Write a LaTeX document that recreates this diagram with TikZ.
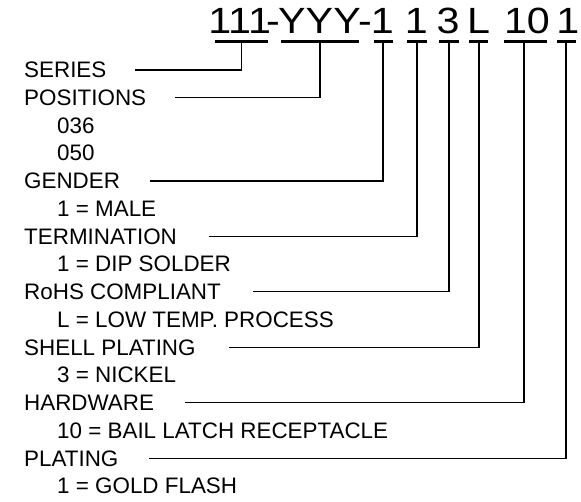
\documentclass[tikz,border=0pt]{standalone}
\usepackage{fontspec}
\setmainfont{Liberation Sans}
\newfontfamily\titlefont[FakeStretch=1.13]{Liberation Sans}
\begin{document}
\begin{tikzpicture}[x=1pt,y=-1pt,
  code/.style={font=\titlefont\fontsize{36.5}{40}\selectfont, inner sep=0pt, anchor=base},
  lab/.style={font=\fontsize{22.4}{26}\selectfont, inner sep=0pt, anchor=base west},
  uline/.style={line width=2.6pt},
  conn/.style={line width=1.4pt}]
\useasboundingbox (0,0) rectangle (581,502);
% part number pieces
\node[code] (c111) at (239.6,33.3) {111};
\node[code] (d1) at (273,33.3) {-};
\node[code] (cYYY) at (319.5,33.3) {YYY};
\node[code] (d2) at (365,33.3) {-};
\node[code] (cG) at (382.3,33.3) {1};
\node[code] (cT) at (416.3,33.3) {1};
\node[code] (cR) at (448,33.3) {3};
\node[code] (cS) at (478.5,33.3) {L};
\node[code] (cH) at (527,33.3) {10};
\node[code] (cP) at (567.8,33.3) {1};
% underlines
\draw[uline] (215,41.3) -- (268,41.3);
\draw[uline] (281,41.3) -- (359,41.3);
\draw[uline] (374,41.3) -- (393,41.3);
\draw[uline] (407,41.3) -- (427,41.3);
\draw[uline] (439,41.3) -- (459,41.3);
\draw[uline] (469,41.3) -- (488,41.3);
\draw[uline] (504,41.3) -- (547,41.3);
\draw[uline] (557,41.3) -- (576,41.3);
% labels
\node[lab] (series) at (24,77.8) {SERIES};
\node[lab] (positions) at (24,105.5) {POSITIONS};
\node[lab] (p036) at (57,133.3) {036};
\node[lab] (p050) at (57,161.0) {050};
\node[lab] (gender) at (24,188.7) {GENDER};
\node[lab] (male) at (57,216.5) {1 = MALE};
\node[lab] (term) at (24,244.2) {TERMINATION};
\node[lab] (dip) at (57,271.9) {1 = DIP SOLDER};
\node[lab] (rohs) at (24,299.6) {RoHS COMPLIANT};
\node[lab] (low) at (57,327.4) {L = LOW TEMP. PROCESS};
\node[lab] (shell) at (24,355.1) {SHELL PLATING};
\node[lab] (nickel) at (57,382.8) {3 = NICKEL};
\node[lab] (hard) at (24,410.6) {HARDWARE};
\node[lab] (bail) at (57,438.3) {10 = BAIL LATCH RECEPTACLE};
\node[lab] (plating) at (24,466.0) {PLATING};
\node[lab] (gold) at (57,493.8) {1 = GOLD FLASH};
% connector ends
\coordinate (t1) at (241.7,41.3);
\coordinate (t2) at (320,41.3);
\coordinate (t3) at (383,41.3);
\coordinate (t4) at (417,41.3);
\coordinate (t5) at (449,41.3);
\coordinate (t6) at (479,41.3);
\coordinate (t7) at (524,41.3);
\coordinate (t8) at (566,41.3);
\coordinate (e1) at (135,70);
\coordinate (e2) at (175,97.7);
\coordinate (e3) at (150,180.9);
\coordinate (e4) at (209,236.4);
\coordinate (e5) at (253,291.8);
\coordinate (e6) at (229,347.3);
\coordinate (e7) at (185,402.8);
\coordinate (e8) at (149,458.2);
\draw[conn] (t1) |- (e1);
\draw[conn] (t2) |- (e2);
\draw[conn] (t3) |- (e3);
\draw[conn] (t4) |- (e4);
\draw[conn] (t5) |- (e5);
\draw[conn] (t6) |- (e6);
\draw[conn] (t7) |- (e7);
\draw[conn] (t8) |- (e8);
\end{tikzpicture}
\end{document}
